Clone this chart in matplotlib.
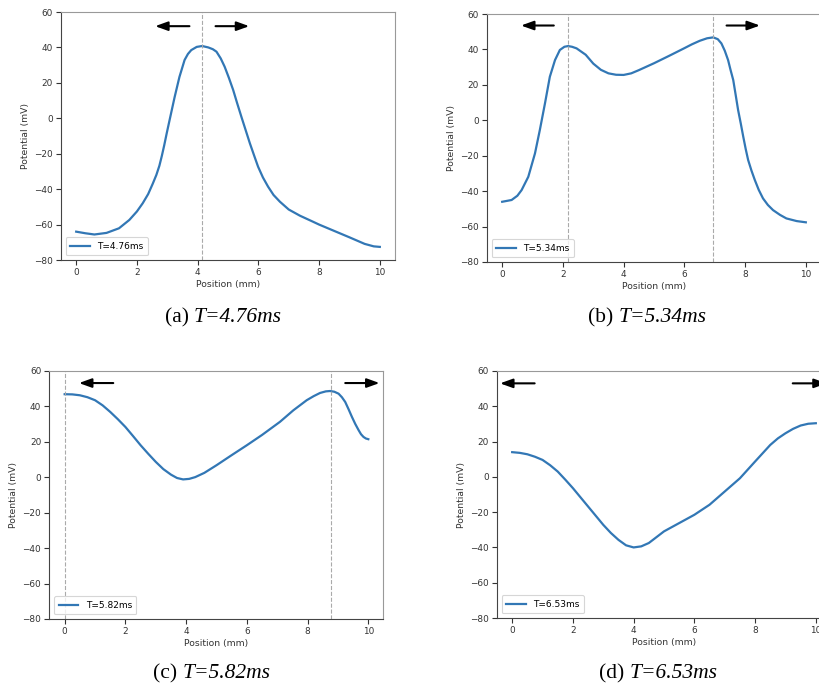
import matplotlib
matplotlib.use("Agg")
import matplotlib.pyplot as plt

# ---------------- data ----------------
xa = [0, 0.3, 0.6, 1.0, 1.41, 1.75, 2.0, 2.19, 2.37, 2.52, 2.64, 2.74, 2.82, 2.9, 2.98, 3.07, 3.24, 3.4, 3.57, 3.68, 3.79, 3.97, 4.15, 4.35, 4.5, 4.62, 4.76, 4.89, 5.03, 5.17, 5.3, 5.44, 5.58, 5.72, 5.86, 5.99, 6.15, 6.32, 6.5, 6.71, 7.0, 7.37, 7.75, 8.0, 8.5, 9.0, 9.5, 9.8, 10.0]
ya = [-64.0, -64.9, -65.6, -64.7, -62.1, -57.4, -52.6, -48.0, -42.8, -37.0, -32.0, -26.8, -21.3, -15.2, -8.6, -1.5, 11.8, 23.3, 32.9, 36.3, 38.5, 40.3, 40.8, 40.0, 39.0, 37.6, 33.8, 29.1, 22.8, 16.0, 8.6, 0.9, -6.6, -14.1, -21.0, -27.3, -33.4, -38.6, -43.3, -47.1, -51.5, -55.0, -58.0, -60.0, -63.6, -67.2, -70.9, -72.3, -72.6]

xb = [0, 0.31, 0.5, 0.64, 0.86, 1.08, 1.24, 1.41, 1.57, 1.74, 1.9, 2.05, 2.17, 2.3, 2.45, 2.75, 3.0, 3.25, 3.5, 3.75, 4.0, 4.25, 4.5, 5.0, 5.5, 6.0, 6.25, 6.51, 6.75, 6.95, 7.1, 7.22, 7.33, 7.44, 7.52, 7.61, 7.69, 7.77, 7.86, 7.94, 8.02, 8.1, 8.21, 8.32, 8.45, 8.59, 8.75, 8.92, 9.15, 9.36, 9.7, 10.0]
yb = [-46.0, -45.0, -42.6, -39.4, -31.9, -18.7, -5.5, 9.6, 24.6, 34.0, 39.7, 41.5, 41.9, 41.5, 40.6, 37.0, 32.0, 28.5, 26.5, 25.7, 25.6, 26.5, 28.3, 32.2, 36.4, 40.7, 42.9, 44.9, 46.3, 46.8, 45.8, 43.4, 39.3, 34.0, 28.5, 22.7, 14.3, 5.8, -2.0, -9.3, -16.2, -22.4, -28.4, -33.7, -39.3, -44.1, -47.8, -50.7, -53.4, -55.4, -56.9, -57.6]

xc = [0, 0.25, 0.5, 0.75, 1.0, 1.25, 1.5, 1.75, 2.0, 2.25, 2.5, 2.75, 3.0, 3.25, 3.5, 3.7, 3.9, 4.1, 4.3, 4.6, 5.0, 5.5, 6.0, 6.5, 7.09, 7.53, 7.97, 8.2, 8.41, 8.6, 8.74, 8.88, 9.02, 9.13, 9.24, 9.35, 9.46, 9.57, 9.68, 9.76, 9.84, 9.92, 10.0]
yc = [46.9, 46.8, 46.3, 45.2, 43.5, 40.6, 36.9, 32.8, 28.4, 23.3, 18.1, 13.3, 8.7, 4.6, 1.5, -0.4, -1.2, -0.9, 0.1, 2.5, 6.8, 12.5, 18.1, 23.9, 31.3, 37.8, 43.5, 45.8, 47.6, 48.5, 48.7, 48.3, 47.2, 45.2, 42.5, 38.4, 34.1, 30.1, 26.6, 24.3, 22.8, 21.9, 21.5]

xd = [0, 0.25, 0.5, 0.75, 1.0, 1.25, 1.5, 1.75, 2.0, 2.5, 3.0, 3.25, 3.5, 3.75, 4.0, 4.25, 4.5, 4.75, 5.0, 5.5, 6.0, 6.5, 7.0, 7.5, 8.0, 8.5, 8.75, 9.0, 9.25, 9.5, 9.75, 10.0]
yd = [14.0, 13.6, 12.8, 11.4, 9.6, 6.6, 3.0, -1.6, -6.4, -16.8, -27.2, -31.8, -35.7, -38.8, -40.0, -39.4, -37.5, -34.2, -30.9, -26.2, -21.5, -15.8, -8.3, -0.8, 8.7, 18.1, 21.8, 24.7, 27.2, 29.1, 30.1, 30.4]

labels = ["T=4.76ms", "T=5.34ms", "T=5.82ms", "T=6.53ms"]
captions_tag = ["(a)", "(b)", "(c)", "(d)"]
captions_T = ["T=4.76ms", "T=5.34ms", "T=5.82ms", "T=6.53ms"]
vlines = [[4.15], [2.17, 6.95], [0.0, 8.78], []]
# arrows: (tail, tip) pairs in data x
arrows = [[(3.73, 2.6), (4.59, 5.7)],
          [(1.70, 0.62), (7.39, 8.49)],
          [(1.60, 0.47), (9.24, 10.37)],
          [(0.74, -0.40), (9.24, 10.36)]]
arrow_y = [52.0, 53.5, 53.2, 53.0]
xticks = [0, 2, 4, 6, 8, 10]
yticks = [-80, -60, -40, -20, 0, 20, 40, 60]

series = [(xa, ya), (xb, yb), (xc, yc), (xd, yd)]

# ---------------- layout (pixels) ----------------
W, H = 820, 690
boxes = [(61, 395, 12, 260), (487, 821, 14, 262), (49.5, 383.5, 371, 619), (497, 831, 371, 618)]
cap_pos = [(223, 318), (647, 318), (212, 674), (658, 674)]

fig = plt.figure(figsize=(W / 100, H / 100), dpi=100)
line_color = '#3277b5'

cap_texts = []
for i in range(4):
    l, r, t, b = boxes[i]
    ax = fig.add_axes([l / W, 1 - b / H, (r - l) / W, (b - t) / H])
    x, y = series[i]
    ax.plot(x, y, color=line_color, lw=1.6, label=labels[i])
    for v in vlines[i]:
        ax.axvline(v, color='#aaaaaa', lw=0.8, ls='--')
    for tail, tip in arrows[i]:
        ax.annotate('', xy=(tip, arrow_y[i]), xytext=(tail, arrow_y[i]),
                    arrowprops=dict(arrowstyle='-|>,head_length=0.75,head_width=0.27',
                                    color='black', lw=1.5, shrinkA=0, shrinkB=0),
                    annotation_clip=False)
    ax.set_xlim(-0.5, 10.5)
    ax.set_ylim(-80, 60)
    ax.set_xticks(xticks)
    ax.set_yticks(yticks)
    ax.tick_params(labelsize=6.4, colors='#333333', length=3.5, width=0.8, pad=2.5)
    ax.set_xlabel('Position (mm)', fontsize=6.7, color='#333333', labelpad=2)
    ax.set_ylabel('Potential (mV)', fontsize=6.7, color='#333333', labelpad=3)
    for s in ['left', 'bottom']:
        ax.spines[s].set_color('#444444')
    for s in ['top', 'right']:
        ax.spines[s].set_color('#999999')
    leg = ax.legend(loc='lower left', fontsize=6.5, handlelength=2.2,
                    borderpad=0.5, frameon=True, fancybox=True)
    leg.get_frame().set_edgecolor('#cccccc')
    leg.get_frame().set_linewidth(0.8)
    cx, cy = cap_pos[i]
    t1 = fig.text(0, 1 - cy / H, captions_tag[i], ha='left', va='center',
                  fontsize=15.5, family='Liberation Serif')
    t2 = fig.text(0, 1 - cy / H, captions_T[i], ha='left', va='center',
                  fontsize=15.5, family='Liberation Serif', style='italic')
    cap_texts.append((t1, t2, cx))

renderer = fig.canvas.get_renderer()
gap = 5.0
for t1, t2, cx in cap_texts:
    w1 = t1.get_window_extent(renderer).width
    w2 = t2.get_window_extent(renderer).width
    total = w1 + gap + w2
    x0 = cx - total / 2
    t1.set_x(x0 / W)
    t2.set_x((x0 + w1 + gap) / W)

fig.savefig('out.png', dpi=100)
